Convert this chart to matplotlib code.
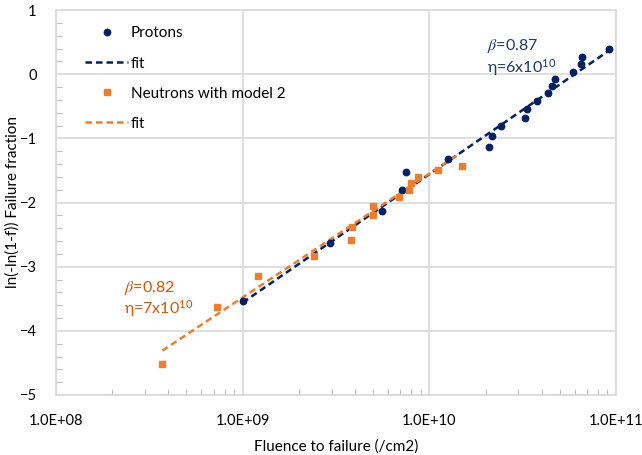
import matplotlib
matplotlib.use("Agg")
import matplotlib.pyplot as plt
from matplotlib.ticker import LogLocator, MultipleLocator, FixedLocator, NullFormatter

plt.rcParams['font.family'] = ['Lato', 'DejaVu Sans']
plt.rcParams['mathtext.fontset'] = 'stix'

# Data
proton_x = [1.0e9, 2.94e9, 5.6e9, 7.16e9, 7.46e9, 1.26e10, 2.08e10, 2.17e10, 2.41e10,
            3.27e10, 3.35e10, 3.76e10, 4.3e10, 4.54e10, 4.71e10, 5.86e10, 6.52e10, 6.6e10, 9.17e10]
proton_y = [-3.53, -2.63, -2.13, -1.80, -1.53, -1.32, -1.13, -0.96, -0.81,
            -0.68, -0.55, -0.42, -0.30, -0.18, -0.075, 0.04, 0.16, 0.26, 0.39]
neutron_x = [3.71e8, 7.26e8, 1.21e9, 2.42e9, 3.79e9, 3.86e9, 5.0e9, 5.0e9, 6.87e9,
             7.78e9, 7.94e9, 8.73e9, 1.11e10, 1.5e10]
neutron_y = [-4.52, -3.63, -3.15, -2.83, -2.58, -2.38, -2.20, -2.05, -1.92,
             -1.80, -1.69, -1.60, -1.50, -1.43]
proton_fit_x = [1.0e9, 9.2e10]
proton_fit_y = [-3.56, 0.37]
neutron_fit_x = [3.71e8, 1.4e10]
neutron_fit_y = [-4.31, -1.27]
x_ticks = [1e8, 1e9, 1e10, 1e11]
x_ticklabels = ['1.0E+08', '1.0E+09', '1.0E+10', '1.0E+11']
y_ticks = [-5, -4, -3, -2, -1, 0, 1]

navy = '#002060'
orange = '#ED7D31'
navy_text = '#203864'
orange_text = '#C55A11'
grid_c = '#D9D9D9'

W, H = 642, 455
fig = plt.figure(figsize=(W/100, H/100), dpi=100)
ax = fig.add_axes([56/W, 60/H, 560/W, 385/H])

ax.plot(proton_x, proton_y, 'o', color=navy, ms=4.6, label='Protons', zorder=4)
ax.plot(proton_fit_x, proton_fit_y, '--', color=navy, lw=1.8, dashes=(2.6, 1.6), label='fit', zorder=3)
ax.plot(neutron_x, neutron_y, 's', color=orange, ms=5, label='Neutrons with model 2', zorder=4)
ax.plot(neutron_fit_x, neutron_fit_y, '--', color=orange, lw=1.8, dashes=(2.6, 1.6), label='fit', zorder=3)

ax.set_xscale('log')
ax.set_xlim(1e8, 1e11)
ax.set_ylim(-5, 1)
ax.xaxis.set_major_locator(FixedLocator(x_ticks))
ax.set_xticklabels(x_ticklabels)
ax.xaxis.set_minor_locator(LogLocator(base=10, subs=range(2, 10)))
ax.xaxis.set_minor_formatter(NullFormatter())
ax.yaxis.set_major_locator(FixedLocator(y_ticks))
ax.yaxis.set_minor_locator(MultipleLocator(0.2))

ax.grid(True, which='major', color=grid_c, lw=1.2, zorder=0)
ax.set_axisbelow(True)
for s in ax.spines.values():
    s.set_color(grid_c)
    s.set_linewidth(1.2)

ax.tick_params(axis='both', which='major', length=0, labelsize=10.5)
ax.tick_params(axis='x', which='major', pad=14)
ax.tick_params(axis='x', which='minor', direction='in', length=4, color='#BFBFBF', width=0.8)
ax.tick_params(axis='y', which='minor', direction='in', length=4, color='#BFBFBF', width=0.8)
ax.tick_params(axis='y', which='major', pad=14)

ax.set_xlabel('Fluence to failure (/cm2)', fontsize=11, labelpad=8)
ax.set_ylabel('ln(-ln(1-f)) Failure fraction', fontsize=11)
ax.yaxis.set_label_coords((20 - 56) / 560, 0.5)

leg = ax.legend(loc='upper left', bbox_to_anchor=(0.033, 0.985), frameon=False, fontsize=11,
                labelspacing=1.05, handlelength=2.8, handletextpad=0.2, borderaxespad=0.3)

def ftext(x, y, s, c):
    fig.text(x/W, 1 - y/H, s, fontsize=11.5, color=c, va='center', ha='left')

ftext(487, 46, r'$\beta$=0.87', navy_text)
ftext(487, 68, r'η=6x10$^{\mathregular{10}}$', navy_text)
ftext(124, 288, r'$\beta$=0.82', orange_text)
ftext(124, 309, r'η=7x10$^{\mathregular{10}}$', orange_text)

fig.savefig('out.png', dpi=100)
